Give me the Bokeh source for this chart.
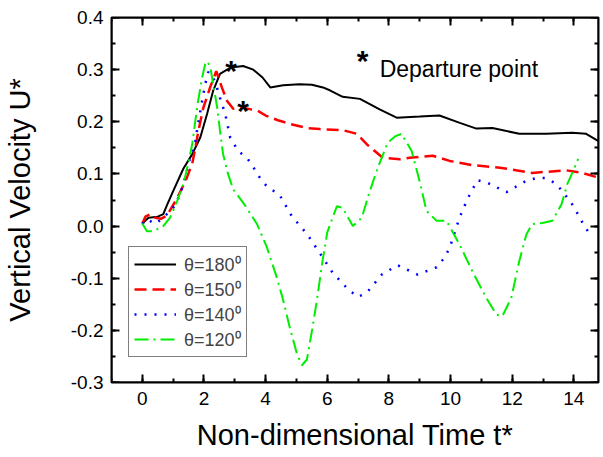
from bokeh.plotting import figure
from bokeh.models import (LinearAxis, SingleIntervalTicker, Range1d, Legend, LegendItem,
                          Label, NumeralTickFormatter, ColumnDataSource, CustomJSTickFormatter)
from bokeh.embed import file_html
from bokeh.resources import INLINE
from bokeh.core.properties import value

# ---------------- data ----------------
t_180 = [0.0, 0.2, 0.5, 0.68, 0.8, 1.0, 1.33, 1.62, 1.88, 2.1, 2.3, 2.52, 2.75, 2.88, 3.27, 3.6,
         3.9, 4.15, 4.57, 5.1, 5.5, 5.86, 6.1, 6.5, 7.06, 7.7, 8.25, 9.0, 9.64, 10.3, 10.84,
         11.36, 12.23, 13.1, 13.95, 14.4, 14.8]
u_180 = [0.005, 0.016, 0.018, 0.023, 0.04, 0.067, 0.11, 0.138, 0.17, 0.215, 0.26, 0.292, 0.30,
         0.304, 0.307, 0.30, 0.285, 0.266, 0.27, 0.272, 0.271, 0.266, 0.26, 0.248, 0.244, 0.224,
         0.208, 0.21, 0.212, 0.198, 0.187, 0.188, 0.177, 0.177, 0.179, 0.177, 0.163]

t_150 = [0.0, 0.1, 0.26, 0.42, 0.6, 0.8, 1.13, 1.4, 1.62, 1.72, 1.82, 1.98, 2.2, 2.4, 2.58,
         2.75, 2.95, 3.27, 3.75, 4.0, 4.4, 4.79, 5.34, 5.76, 6.5, 6.96, 7.28, 7.8, 8.35, 8.67,
         9.42, 9.97, 10.7, 11.6, 12.65, 13.75, 14.27, 14.8]
u_150 = [0.005, 0.018, 0.023, 0.016, 0.014, 0.02, 0.054, 0.086, 0.12, 0.15, 0.183, 0.227, 0.266,
         0.297, 0.266, 0.24, 0.225, 0.227, 0.221, 0.212, 0.203, 0.196, 0.188, 0.186, 0.184,
         0.177, 0.157, 0.131, 0.128, 0.131, 0.135, 0.125, 0.117, 0.112, 0.102, 0.107, 0.102,
         0.093]

t_140 = [0.0, 0.15, 0.42, 0.68, 1.0, 1.23, 1.39, 1.55, 1.72, 1.81, 1.94, 2.04, 2.14, 2.36, 2.52,
         2.69, 2.85, 3.1, 3.43, 3.59, 3.82, 3.98, 4.47, 4.85, 5.34, 5.76, 6.18, 6.67, 6.99, 7.28,
         7.77, 8.28, 8.93, 9.55, 9.8, 9.97, 10.29, 10.55, 10.87, 11.2, 11.81, 12.46, 12.78,
         13.1, 13.43, 13.69, 13.92, 14.17, 14.34, 14.6]
u_140 = [0.004, 0.013, 0.004, 0.016, 0.035, 0.061, 0.093, 0.131, 0.163, 0.196, 0.24, 0.272,
         0.296, 0.278, 0.246, 0.215, 0.17, 0.145, 0.128, 0.114, 0.092, 0.08, 0.058, 0.019,
         -0.015, -0.052, -0.09, -0.121, -0.136, -0.128, -0.093, -0.075, -0.093, -0.079, -0.061,
         -0.042, 0.016, 0.052, 0.088, 0.083, 0.065, 0.087, 0.092, 0.092, 0.081, 0.062, 0.044,
         0.019, 0.0, -0.022]

t_120 = [0.0, 0.15, 0.36, 0.68, 0.9, 1.13, 1.33, 1.49, 1.62, 1.72, 1.81, 1.94, 2.04, 2.1, 2.2,
         2.3, 2.43, 2.52, 2.62, 2.78, 2.95, 3.27, 3.72, 4.05, 4.37, 4.56, 4.79, 5.02, 5.18, 5.34,
         5.5, 5.66, 5.83, 6.0, 6.31, 6.5, 6.83, 7.12, 7.38, 7.64, 7.96, 8.2, 8.41, 8.74, 9.0,
         9.22, 9.55, 9.87, 10.29, 10.71, 11.16, 11.49, 11.68, 11.97, 12.23, 12.46, 12.65, 12.98,
         13.3, 13.6, 13.79, 14.01, 14.14]
u_120 = [0.005, -0.01, -0.01, 0.0, 0.016, 0.048, 0.08, 0.12, 0.158, 0.202, 0.24, 0.285, 0.311,
         0.316, 0.307, 0.272, 0.227, 0.183, 0.138, 0.1, 0.07, 0.045, 0.004, -0.042, -0.1, -0.14,
         -0.196, -0.246, -0.267, -0.256, -0.202, -0.144, -0.073, -0.012, 0.038, 0.035, 0.0,
         0.016, 0.067, 0.112, 0.16, 0.172, 0.177, 0.144, 0.085, 0.029, 0.01, 0.01, -0.035,
         -0.087, -0.138, -0.17, -0.173, -0.138, -0.067, -0.016, 0.004, 0.006, 0.01, 0.042,
         0.081, 0.11, 0.129]

# departure points (theta = 180, theta = 150)
dep_t = [2.88, 3.27]
dep_u = [0.304, 0.227]

legend_labels = ["θ=180⁰", "θ=150⁰", "θ=140⁰", "θ=120⁰"]

FONT = "Liberation Sans"
X0, X1 = -1, 14.8
Y0, Y1 = -0.3001, 0.4001

# ---------------- figure ----------------
p = figure(width=603, height=457, output_backend="svg", toolbar_location=None,
           x_range=Range1d(X0, X1), y_range=Range1d(Y0, Y1),
           x_axis_location=None, y_axis_location=None,
           min_border_left=111, min_border_right=5, min_border_top=17, min_border_bottom=75)
p.xgrid.visible = False
p.ygrid.visible = False
p.outline_line_color = "black"
p.outline_line_width = 2


def tick_axis(interval, loc):
    """Axis drawn exactly on a frame edge, carrying only the inward ticks."""
    ax = LinearAxis(ticker=SingleIntervalTicker(interval=interval, num_minor_ticks=2),
                    fixed_location=loc)
    ax.axis_line_width = 2
    ax.axis_line_color = "black"
    ax.major_tick_in = 8
    ax.major_tick_out = 0
    ax.minor_tick_in = 4
    ax.minor_tick_out = 0
    ax.major_tick_line_width = 2
    ax.minor_tick_line_width = 2
    ax.major_tick_line_color = "#000000"
    ax.minor_tick_line_color = "#000000"
    ax.formatter = CustomJSTickFormatter(code="return ''")
    ax.major_label_text_font_size = "2px"
    ax.major_label_standoff = 0
    return ax


def label_axis(interval, fmt=None):
    """Axis carrying the tick labels and the title (no ticks, no rule)."""
    ax = LinearAxis(ticker=SingleIntervalTicker(interval=interval, num_minor_ticks=2))
    ax.axis_line_color = None
    ax.major_tick_line_color = None
    ax.minor_tick_line_color = None
    ax.major_tick_in = 0
    ax.major_tick_out = 1
    ax.minor_tick_in = 0
    ax.minor_tick_out = 0
    if fmt is not None:
        ax.formatter = fmt
    ax.major_label_text_font = FONT
    ax.major_label_text_font_size = "19px"
    ax.major_label_text_color = "black"
    ax.axis_label_text_font = FONT
    ax.axis_label_text_font_size = "29px"
    ax.axis_label_text_font_style = "normal"
    ax.axis_label_text_color = "black"
    return ax


# inner panels: tick-only axes on every frame edge
p.add_layout(tick_axis(2, Y0), "below")
p.add_layout(tick_axis(0.1, X0), "left")
p.add_layout(tick_axis(2, Y1), "above")
p.add_layout(tick_axis(0.1, X1), "right")

# outer panels: labels and titles
xb = label_axis(2)
xb.axis_label = "Non-dimensional Time t*"
xb.major_label_standoff = 8
xb.axis_label_standoff = 11
p.add_layout(xb, "below")

yl = label_axis(0.1, NumeralTickFormatter(format="0.0"))
yl.axis_label = "Vertical Velocity U*"
yl.major_label_standoff = 7
yl.axis_label_standoff = 32
p.add_layout(yl, "left")

# ---------------- curves ----------------
r1 = p.line(t_180, u_180, line_color="black", line_width=2)
r2 = p.line(t_150, u_150, line_color="red", line_width=2.5, line_dash="12 6")
r3 = p.line(t_140, u_140, line_color="blue", line_width=2.5, line_dash="2 8")
r4 = p.line(t_120, u_120, line_color="#00ee00", line_width=2, line_dash="14 5 2 5")

# departure stars on the curves
star_src = ColumnDataSource(dict(x=dep_t, y=dep_u, s=["*"] * len(dep_t)))
p.text(x="x", y="y", text="s", source=star_src, text_font=value(FONT),
       text_font_size="30px", text_font_style="bold", text_align="center",
       text_baseline="alphabetic", y_offset=3, text_color="black")

# annotation "* Departure point"
p.add_layout(Label(x=7.15, y=0.323, text="*", text_font=FONT, text_font_size="30px",
                   text_font_style="bold", text_align="center", text_baseline="alphabetic",
                   y_offset=-3, text_color="black"))
p.add_layout(Label(x=7.7, y=0.302, text="Departure point", text_font=FONT,
                   text_font_size="23px", text_baseline="alphabetic", text_color="black"))

# ---------------- legend ----------------
legend = Legend(items=[LegendItem(label=legend_labels[0], renderers=[r1]),
                       LegendItem(label=legend_labels[1], renderers=[r2]),
                       LegendItem(label=legend_labels[2], renderers=[r3]),
                       LegendItem(label=legend_labels[3], renderers=[r4])],
                location=(17, 25))
legend.border_line_color = "black"
legend.border_line_width = 1
legend.background_fill_alpha = 1
legend.label_text_font = FONT
legend.label_text_font_size = "18px"
legend.glyph_width = 42
legend.glyph_height = 20
legend.label_height = 20
legend.label_standoff = 8
legend.spacing = 1
legend.padding = 5
legend.margin = 0
p.add_layout(legend)

open("out.html", "w").write(file_html(p, INLINE))
